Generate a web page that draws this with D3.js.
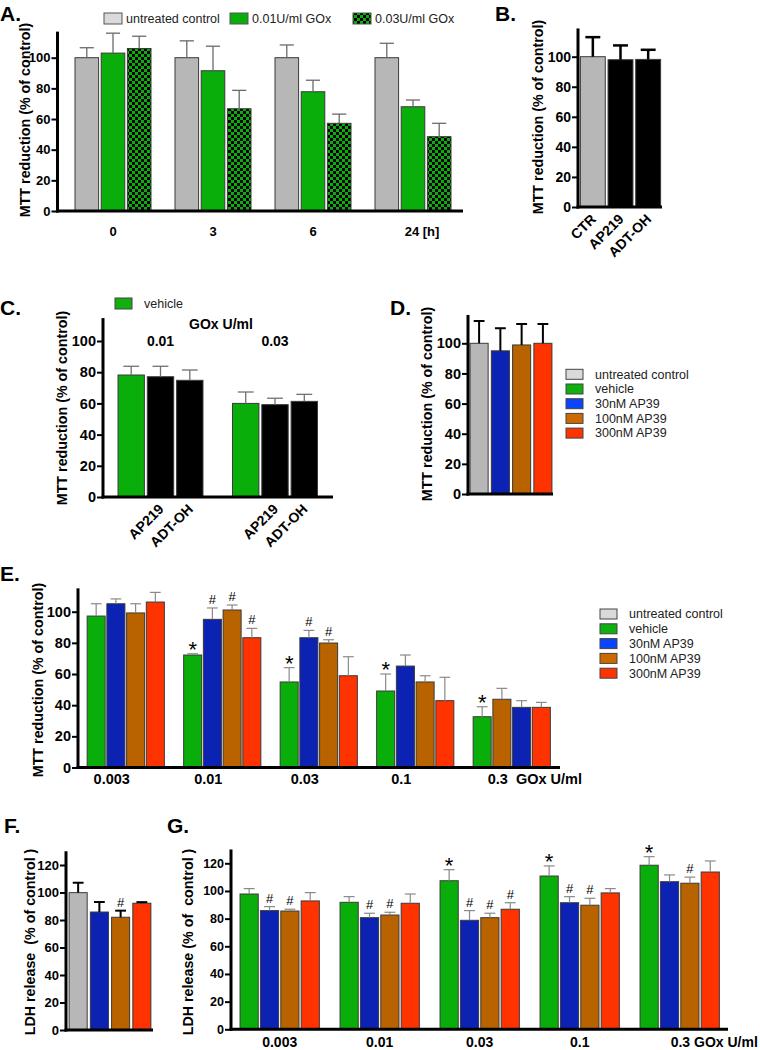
<!DOCTYPE html>
<html>
<head>
<meta charset="utf-8">
<script src="https://cdn.jsdelivr.net/npm/d3@7"></script>
<style>
  body { margin: 0; background: #fff; }
  svg { display: block; font-family: "Liberation Sans", Arial, sans-serif; }
</style>
</head>
<body>
<div id="chart"></div>
<script>
// ---- values ----
const aGroups = ['0', '3', '6', '24 [h]'];
const aSeries = ['untreated control', '0.01U/ml GOx', '0.03U/ml GOx'];
const aMeans = [[100, 103, 106], [100, 91.5, 66.7], [100, 77.8, 57.2], [100, 68, 48.5]];
const aErr = [[6.5, 13, 8], [11, 16, 12], [8.3, 7.5, 6], [9.4, 4.4, 8.7]];

const bLabels = ['CTR', 'AP219', 'ADT-OH'];
const bMeans = [100, 98, 98.2];
const bErr = [13, 9.5, 6.4];

const cGroups = ['0.01', '0.03'];
const cSeries = ['vehicle', 'AP219', 'ADT-OH'];
const cMeans = [[78.2, 77.1, 74.8], [60, 59.2, 61.3]];
const cErr = [[5.6, 6.7, 6.6], [7.3, 4.1, 4.5]];

const legendItems = ['untreated control', 'vehicle', '30nM AP39', '100nM AP39', '300nM AP39'];

const dSeries = ['untreated control', '30nM AP39', '100nM AP39', '300nM AP39'];
const dMeans = [100, 95, 98.9, 100];
const dErr = [14.8, 15, 13.9, 12.8];

const eGroups = ['0.003', '0.01', '0.03', '0.1', '0.3'];
const eOrder = [
    ['vehicle', '30nM AP39', '100nM AP39', '300nM AP39'],
    ['vehicle', '30nM AP39', '100nM AP39', '300nM AP39'],
    ['vehicle', '30nM AP39', '100nM AP39', '300nM AP39'],
    ['vehicle', '30nM AP39', '100nM AP39', '300nM AP39'],
    ['vehicle', '100nM AP39', '30nM AP39', '300nM AP39'],
];
const eMeans = [[97.2, 105.1, 99.2, 106.2], [72.2, 95.1, 101.1, 83.3], [54.9, 83.3, 79.9, 58.9], [49.1, 65.1, 54.9, 42.9], [32.6, 43.8, 38.6, 38.6]];
const eErr = [[7.9, 3.1, 5.9, 6.2], [0.8, 7.3, 3.2, 6], [9.2, 4.7, 2.1, 12.2], [10.9, 7.1, 4, 15], [6.4, 7, 4.3, 3.2]];
const eMarks = [['', '', '', ''], ['*', '#', '#', '#'], ['*', '#', '#', ''], ['*', '', '', ''], ['*', '', '', '']];

const fSeries = ['untreated control', '30nM AP39', '100nM AP39', '300nM AP39'];
const fMeans = [99.9, 85.8, 82, 92.2];
const fErr = [7.2, 7.3, 4.8, 0.8];
const fMarks = ['', '', '#', ''];

const gGroups = ['0.003', '0.01', '0.03', '0.1', '0.3'];
const gSeries = ['vehicle', '30nM AP39', '100nM AP39', '300nM AP39'];
const gMeans = [[97.8, 85.8, 85.5, 92.8], [91.8, 80.7, 82.6, 91.1], [107.4, 78.8, 80.7, 86.8], [110.8, 91.5, 89.7, 98.6], [118.6, 106.7, 105.6, 113.7]];
const gErr = [[3.9, 2.9, 1.3, 6], [4.1, 3.2, 2, 6.7], [8, 7, 3.2, 4.7], [7.3, 4.4, 5, 3.1], [6.2, 4.9, 4.4, 8]];
const gMarks = [['', '#', '#', ''], ['', '#', '#', ''], ['*', '#', '#', '#'], ['*', '#', '#', ''], ['*', '', '#', '']];

const ticks100 = [0, 20, 40, 60, 80, 100];
const ticks120 = [0, 20, 40, 60, 80, 100, 120];

// ---- colours ----
const barColor = {
    'untreated control': '#b7b7b7',
    'vehicle': '#0aae0a',
    '30nM AP39': '#0b22b2',
    '100nM AP39': '#b86300',
    '300nM AP39': '#ff3300',
    'AP219': '#000',
    'ADT-OH': '#000',
    '0.01U/ml GOx': '#0aae0a',
    '0.03U/ml GOx': 'url(#checker)',
};
const swatchColor = {
    'untreated control': '#dadada',
    'vehicle': '#0fb00f',
    '30nM AP39': '#0a44ff',
    '100nM AP39': '#cc6a00',
    '300nM AP39': '#ff3300',
};

const width = 760;
const height = 1050;

const svg = d3.select('#chart')
    .append('svg')
    .attr('width', width)
    .attr('height', height);

const defs = svg.append('defs');
const pat = defs.append('pattern')
    .attr('id', 'checker')
    .attr('width', 6).attr('height', 6)
    .attr('patternUnits', 'userSpaceOnUse');
pat.append('rect').attr('width', 6).attr('height', 6).attr('fill', '#0aae0a');
pat.append('rect').attr('width', 3).attr('height', 3).attr('fill', '#000');
pat.append('rect').attr('x', 3).attr('y', 3).attr('width', 3).attr('height', 3).attr('fill', '#000');

// ---- helpers ----
function yAxis(y, x0, top, ticks, fs) {
    svg.append('g')
        .attr('transform', `translate(${x0},0)`)
        .call(d3.axisLeft(y).tickValues(ticks).tickSize(6).tickPadding(1))
        .call(g => g.select('.domain').remove())
        .call(g => g.selectAll('line').attr('stroke', '#000').attr('stroke-width', 2))
        .call(g => g.selectAll('text')
            .attr('fill', '#000')
            .attr('font-size', fs)
            .attr('font-weight', 'bold')
            .attr('font-family', '"Liberation Sans", Arial, sans-serif'));
    svg.append('line')
        .attr('x1', x0).attr('x2', x0)
        .attr('y1', y(0) + 1.5).attr('y2', y(top))
        .attr('stroke', '#000').attr('stroke-width', 3);
}

function xLine(y, x0, x1) {
    svg.append('line')
        .attr('x1', x0 - 1.5).attr('x2', x1)
        .attr('y1', y(0)).attr('y2', y(0))
        .attr('stroke', '#000').attr('stroke-width', 3);
}

function yTitle(text, cx, cy, fs = 14.3) {
    svg.append('text')
        .attr('transform', `translate(${cx},${cy}) rotate(-90)`)
        .attr('text-anchor', 'middle')
        .attr('dy', '0.35em')
        .attr('font-size', fs)
        .attr('font-weight', 'bold')
        .attr('xml:space', 'preserve')
        .text(text);
}

function panelLetter(text, x, y) {
    svg.append('text')
        .attr('x', x).attr('y', y)
        .attr('font-size', 21)
        .attr('font-weight', 'bold')
        .text(text);
}

// items: {x, w, v, e, fill, mark}
function drawBars(items, y, errColor, errWidth) {
    const g = svg.append('g');
    g.selectAll('rect')
        .data(items)
        .join('rect')
        .attr('x', d => d.x)
        .attr('y', d => y(d.v))
        .attr('width', d => d.w)
        .attr('height', d => y(0) - y(d.v))
        .attr('fill', d => d.fill)
        .attr('stroke', '#3a3a3a')
        .attr('stroke-width', 1);

    g.selectAll('line.err')
        .data(items)
        .join('line')
        .attr('class', 'err')
        .attr('x1', d => d.x + d.w / 2).attr('x2', d => d.x + d.w / 2)
        .attr('y1', d => y(d.v)).attr('y2', d => y(d.v + d.e))
        .attr('stroke', errColor).attr('stroke-width', errWidth);

    g.selectAll('line.cap')
        .data(items)
        .join('line')
        .attr('class', 'cap')
        .attr('x1', d => d.x + d.w * 0.2).attr('x2', d => d.x + d.w * 0.8)
        .attr('y1', d => y(d.v + d.e)).attr('y2', d => y(d.v + d.e))
        .attr('stroke', errColor).attr('stroke-width', errWidth);

    g.selectAll('text.mark')
        .data(items.filter(d => d.mark))
        .join('text')
        .attr('class', 'mark')
        .attr('x', d => d.x + d.w / 2)
        .attr('y', d => y(d.v + d.e) + (d.mark === '*' ? 3 : -4))
        .attr('text-anchor', 'middle')
        .attr('font-size', d => d.mark === '*' ? 22 : 13)
        .text(d => d.mark);
}

function legend(items, x, y0, step, textX) {
    const g = svg.append('g');
    items.forEach((name, i) => {
        const cy = y0 + i * step;
        g.append('rect')
            .attr('x', x).attr('y', cy - 5)
            .attr('width', 17).attr('height', 10)
            .attr('fill', swatchColor[name])
            .attr('stroke', '#444').attr('stroke-width', 1);
        g.append('text')
            .attr('x', textX).attr('y', cy)
            .attr('dy', '0.35em')
            .attr('font-size', 12.5)
            .attr('fill', '#222')
            .text(name);
    });
}

// ---- A ----
{
    const x = d3.scaleBand().domain(aGroups).range([63, 463]).paddingInner(0.24).paddingOuter(0.12);
    const inner = d3.scaleBand().domain(d3.range(aSeries.length)).range([0, x.bandwidth()]).paddingInner(0.1);
    const y = d3.scaleLinear().domain([0, 100]).range([211, 57.7]);
    const items = [];
    aGroups.forEach((grp, gi) => aSeries.forEach((s, si) => items.push({
        x: x(grp) + inner(si), w: inner.bandwidth(),
        v: aMeans[gi][si], e: aErr[gi][si], fill: barColor[s],
    })));
    drawBars(items, y, '#6a6a6a', 1.3);
    yAxis(y, 57.5, 117, ticks100, 13);
    xLine(y, 57.5, 463);
    svg.append('g').selectAll('text')
        .data(aGroups)
        .join('text')
        .attr('x', d => x(d) + x.bandwidth() / 2 + (d.includes(' ') ? 9 : 0))
        .attr('y', 236)
        .attr('text-anchor', 'middle')
        .attr('font-size', 13)
        .attr('font-weight', 'bold')
        .text(d => d);
    yTitle('MTT reduction (% of control)', 25, 120);
    panelLetter('A.', 0, 21);

    // legend on top
    const lx = [104, 230, 353];
    aSeries.forEach((s, i) => {
        svg.append('rect')
            .attr('x', lx[i]).attr('y', 13)
            .attr('width', 18).attr('height', 11)
            .attr('fill', s === aSeries[0] ? swatchColor[s] : barColor[s])
            .attr('stroke', '#555').attr('stroke-width', 1);
        svg.append('text')
            .attr('x', lx[i] + 22).attr('y', 18.5)
            .attr('dy', '0.35em')
            .attr('font-size', 12.5)
            .attr('fill', '#222')
            .text(s);
    });
}

// ---- B ----
{
    const x = d3.scaleBand().domain(bLabels).range([579, 662]).paddingInner(0.1).paddingOuter(0.05);
    const y = d3.scaleLinear().domain([0, 100]).range([207, 56.7]);
    const items = bLabels.map((l, i) => ({
        x: x(l), w: x.bandwidth(), v: bMeans[i], e: bErr[i],
        fill: i === 0 ? barColor['untreated control'] : '#000',
    }));
    drawBars(items, y, '#000', 2.5);
    yAxis(y, 578, 118.8, ticks100, 14);
    xLine(y, 578, 662);
    svg.append('g').selectAll('text')
        .data(bLabels)
        .join('text')
        .attr('transform', d => `translate(${x(d) + x.bandwidth() / 2 + 4},${y(0) + 13}) rotate(-45)`)
        .attr('text-anchor', 'end')
        .attr('font-size', 14)
        .attr('font-weight', 'bold')
        .text(d => d);
    yTitle('MTT reduction (% of control)', 538, 117);
    panelLetter('B.', 495, 21);
}

// ---- C ----
{
    const x = d3.scaleBand().domain(cGroups).range([103.25, 332.25]).paddingInner(0.258).paddingOuter(0.129);
    const inner = d3.scaleBand().domain(d3.range(cSeries.length)).range([0, x.bandwidth()]).paddingInner(0.1);
    const y = d3.scaleLinear().domain([0, 100]).range([497, 341]);
    const items = [];
    cGroups.forEach((grp, gi) => cSeries.forEach((s, si) => items.push({
        x: x(grp) + inner(si), w: inner.bandwidth(),
        v: cMeans[gi][si], e: cErr[gi][si], fill: barColor[s], label: si ? s : '',
    })));
    drawBars(items, y, '#707070', 1.3);
    yAxis(y, 103, 114.7, ticks100, 14.5);
    xLine(y, 103, 333);
    svg.append('g').selectAll('text')
        .data(items.filter(d => d.label))
        .join('text')
        .attr('transform', d => `translate(${d.x + d.w / 2 + 4},${y(0) + 13}) rotate(-45)`)
        .attr('text-anchor', 'end')
        .attr('font-size', 14)
        .attr('font-weight', 'bold')
        .text(d => d.label);
    svg.append('text')
        .attr('x', 221).attr('y', 329)
        .attr('text-anchor', 'middle')
        .attr('font-size', 14).attr('font-weight', 'bold')
        .text('GOx U/ml');
    svg.append('g').selectAll('text.grp')
        .data(cGroups)
        .join('text')
        .attr('x', d => x(d) + x.bandwidth() / 2)
        .attr('y', 346)
        .attr('text-anchor', 'middle')
        .attr('font-size', 14).attr('font-weight', 'bold')
        .text(d => d);
    yTitle('MTT reduction (% of control)', 62, 408);
    panelLetter('C.', 0, 315);
    svg.append('rect')
        .attr('x', 115).attr('y', 298)
        .attr('width', 17).attr('height', 11)
        .attr('fill', swatchColor['vehicle'])
        .attr('stroke', '#444');
    svg.append('text')
        .attr('x', 144).attr('y', 303.5).attr('dy', '0.35em')
        .attr('font-size', 12.5).attr('fill', '#222')
        .text('vehicle');
}

// ---- D ----
{
    const x = d3.scaleBand().domain(dSeries).range([469, 553]).paddingInner(0.15).paddingOuter(0.05);
    const y = d3.scaleLinear().domain([0, 100]).range([494, 343.3]);
    const items = dSeries.map((s, i) => ({
        x: x(s), w: x.bandwidth(), v: dMeans[i], e: dErr[i], fill: barColor[s],
    }));
    drawBars(items, y, '#000', 2);
    yAxis(y, 468, 118.8, ticks100, 14.5);
    xLine(y, 468, 553);
    yTitle('MTT reduction (% of control)', 427, 404);
    panelLetter('D.', 390, 315);
    legend(legendItems, 566, 374.3, 14.7, 595);
}

// ---- E ----
{
    const x = d3.scaleBand().domain(eGroups).range([77.5, 560]).paddingInner(0.2).paddingOuter(0.1);
    const inner = d3.scaleBand().domain(d3.range(4)).range([0, x.bandwidth()]).paddingInner(0.086);
    const y = d3.scaleLinear().domain([0, 100]).range([767.5, 611.7]);
    const items = [];
    eGroups.forEach((grp, gi) => eOrder[gi].forEach((s, si) => items.push({
        x: x(grp) + inner(si), w: inner.bandwidth(),
        v: eMeans[gi][si], e: eErr[gi][si], fill: barColor[s], mark: eMarks[gi][si],
    })));
    drawBars(items, y, '#8a8a8a', 1.2);
    yAxis(y, 78, 115, ticks100, 14.5);
    xLine(y, 78, 560);
    svg.append('g').selectAll('text')
        .data(eGroups)
        .join('text')
        .attr('x', (d, i) => x(d) + x.bandwidth() / 2 - (i === eGroups.length - 1 ? 24 : 14))
        .attr('y', 784)
        .attr('text-anchor', (d, i) => i === eGroups.length - 1 ? 'start' : 'middle')
        .attr('font-size', 14.5)
        .attr('font-weight', 'bold')
        .attr('xml:space', 'preserve')
        .text((d, i) => i === eGroups.length - 1 ? d + '  GOx U/ml' : d);
    yTitle('MTT reduction (% of control)', 38, 680);
    panelLetter('E.', 0, 581);
    legend(legendItems, 600, 614, 14.8, 629);
}

// ---- F ----
{
    const x = d3.scaleBand().domain(fSeries).range([67, 153]).paddingInner(0.15).paddingOuter(0.1);
    const y = d3.scaleLinear().domain([0, 120]).range([1030, 865]);
    const items = fSeries.map((s, i) => ({
        x: x(s), w: x.bandwidth(), v: fMeans[i], e: fErr[i], fill: barColor[s], mark: fMarks[i],
    }));
    drawBars(items, y, '#000', 2);
    yAxis(y, 66, 130, ticks120, 13);
    xLine(y, 66, 153);
    yTitle('LDH release  (% of control )', 30, 942);
    panelLetter('F.', 4, 833);
}

// ---- G ----
{
    const x = d3.scaleBand().domain(gGroups).range([229.7, 729.7]).paddingInner(0.207).paddingOuter(0.1035);
    const inner = d3.scaleBand().domain(d3.range(gSeries.length)).range([0, x.bandwidth()]).paddingInner(0.107);
    const y = d3.scaleLinear().domain([0, 120]).range([1029.3, 863.3]);
    const items = [];
    gGroups.forEach((grp, gi) => gSeries.forEach((s, si) => items.push({
        x: x(grp) + inner(si), w: inner.bandwidth(),
        v: gMeans[gi][si], e: gErr[gi][si], fill: barColor[s], mark: gMarks[gi][si],
    })));
    drawBars(items, y, '#8a8a8a', 1.2);
    yAxis(y, 231, 130, ticks120, 12.5);
    xLine(y, 231, 728);
    svg.append('g').selectAll('text')
        .data(gGroups)
        .join('text')
        .attr('x', (d, i) => x(d) + x.bandwidth() / 2 - (i === gGroups.length - 1 ? 9 : 0))
        .attr('y', 1047)
        .attr('text-anchor', (d, i) => i === gGroups.length - 1 ? 'start' : 'middle')
        .attr('font-size', 14)
        .attr('font-weight', 'bold')
        .text((d, i) => i === gGroups.length - 1 ? d + ' GOx U/ml' : d);
    yTitle('LDH release (% of  control )', 188, 942);
    panelLetter('G.', 167, 833);
}
</script>
</body>
</html>
